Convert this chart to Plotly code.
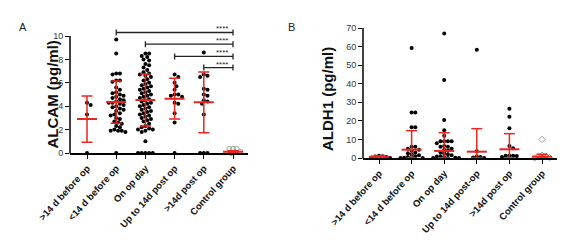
import plotly.graph_objects as go
import numpy as np

# ---------------- data ----------------
cats_a = [">14 d before op", "<14 d before op", "On op day", "Up to 14d post op", ">14d post op", "Control group"]
cats_b = [">14 d before op", "<14 d before op", "On op day", "Up to 14d post-op", ">14d post op", "Control group"]

a_g1 = [4.3, 4.1, 3.3, 0]
a_g2 = [9.7, 8.5, 6.8, 6.8, 6.7, 6.2, 6.2, 6.1, 5.6, 5.4, 5.2, 5.1, 5.0, 4.9, 4.8, 4.7, 4.6, 4.5, 4.4,
        4.3, 4.3, 4.2, 4.1, 4.0, 3.9, 3.8, 3.7, 3.6, 3.4, 3.3, 3.2, 3.0, 2.9, 2.7, 2.6, 2.5, 2.3, 2.2,
        2.0, 1.9, 1.9, 1.9, 1.8, 0]
a_g3 = [8.5, 8.5, 8.3, 8.2, 8.0, 7.9, 7.6, 7.5, 7.3, 7.1, 6.9, 6.8, 6.7, 6.6, 6.5, 6.3, 6.2, 6.0, 5.9,
        5.8, 5.7, 5.6, 5.5, 5.4, 5.3, 5.2, 5.1, 5.0, 4.9, 4.8, 4.7, 4.6, 4.5, 4.4, 4.3, 4.2, 4.1, 4.0,
        3.9, 3.8, 3.7, 3.6, 3.5, 3.4, 3.3, 3.2, 3.1, 3.0, 2.9, 2.8, 2.7, 2.5, 2.3, 2.2, 2.1, 2.0, 2.0,
        1.9, 1.8, 1.0, 0, 0, 0, 0, 0]
a_g4 = [6.7, 6.5, 6.0, 5.7, 5.4, 5.0, 5.0, 4.9, 4.8, 4.3, 4.2, 3.4, 2.6, 0]
a_g5 = [8.6, 6.7, 6.6, 6.5, 5.5, 5.4, 5.0, 4.9, 4.5, 4.4, 4.2, 3.3, 0, 0, 0]
a_g6 = [0.35, 0.35, 0.35, 0.1, 0.05, 0]
a_mean = [2.9, 4.35, 4.53, 4.63, 4.33, 0.1]
a_lo = [0.91, 2.54, 2.31, 2.9, 1.74, 0.02]
a_hi = [4.87, 6.15, 6.75, 6.38, 6.92, 0.2]

# significance brackets: start group, end group, height, label
br_start = [1, 2, 3, 4]
br_end = [5, 5, 5, 5]
br_y = [10.3, 9.3, 8.25, 7.3]
br_label = ["****", "****", "****", "****"]

b_g1 = [1.2, 1.0, 0.8, 0.6, 0.3, 0]
b_g2 = [59.2, 24.5, 24.5, 16.5, 16.5, 6.1, 6.0, 5.0, 4.5, 4.0, 3.0, 2.5, 2.0, 1.5, 1.0,
        0.5, 0.2, 0, 0, 0]
b_g3 = [67, 42, 20.5, 15, 12, 9, 9, 9, 9, 8, 6.5, 6, 6, 5, 4.5, 4, 3, 2.5, 2, 1.5,
        1, 0.8, 0.5, 0.2, 0, 0, 0]
b_g4 = [58.3, 3.7, 0.8, 0.6, 0.3, 0]
b_g5 = [26.5, 22.2, 16, 6.5, 5.2, 1.2, 1.2, 1.2, 1.1, 0.5]
b_g6 = [10, 1.5, 1.0, 0.6, 0.3, 0]
b_mean = [0.6, 4.5, 3.8, 3.4, 4.7, 0.7]
b_lo = [0.05, 0.05, 0.05, 0.05, 0.05, 0.05]
b_hi = [1.3, 14.7, 13.6, 15.8, 13.1, 2.0]

W, H = 577, 241
RED = "#e8251f"

# pixel geometry of each panel (ytop = pixel of ymax; extra headroom above the axis end)
A = dict(x0=70, x1=248, cat0=87, step=29.2, ybot=153, ytop=36, ymax=10, yext=10.7, ctrl="circle-open")
B = dict(x0=363, x1=557, cat0=379, step=32.6, ybot=158, ytop=28, ymax=70, yext=70, ctrl="diamond-open")


def xrange_of(p):
    return [(p["x0"] - p["cat0"]) / p["step"], (p["x1"] - p["cat0"]) / p["step"]]


def ppu_y(p):
    return (p["ybot"] - p["ytop"]) / p["ymax"]


def swarm(values, center, p, d=3.7):
    """simple beeswarm placement, in pixels then converted to data units"""
    py = ppu_y(p)
    order = np.argsort(-np.array(values), kind="stable")
    placed = []
    xs = [0.0] * len(values)
    for i in order:
        y = values[i] * py
        k = 0
        while True:
            cands = [0.0] if k == 0 else [k * d * 0.5, -k * d * 0.5]
            ok = None
            for c in cands:
                if all((c - px) ** 2 + (y - pyy) ** 2 >= d * d for px, pyy in placed):
                    ok = c
                    break
            if ok is not None:
                placed.append((ok, y))
                xs[i] = center + ok / p["step"]
                break
            k += 1
    return xs


fig = go.Figure()


def add_panel(groups, means, los, his, p, xa, ya):
    for gi, vals in enumerate(groups):
        xs = swarm(vals, gi, p)
        control = gi == 5
        fig.add_trace(go.Scatter(
            x=xs, y=vals, mode="markers", xaxis=xa, yaxis=ya, cliponaxis=False,
            marker=dict(size=5 if control else 4,
                        symbol=p["ctrl"] if control else "circle",
                        color="#a0a0a0" if control else "black",
                        line=dict(width=1, color="#a0a0a0") if control else dict(width=0)),
            showlegend=False, hoverinfo="skip"))
    cap = 5.5 / p["step"]
    mh = 10 / p["step"]
    ex, ey, mx, my = [], [], [], []
    for gi in range(len(means)):
        ex += [gi, gi, None, gi - cap, gi + cap, None, gi - cap, gi + cap, None]
        ey += [los[gi], his[gi], None, los[gi], los[gi], None, his[gi], his[gi], None]
        mx += [gi - mh, gi + mh, None]
        my += [means[gi], means[gi], None]
    fig.add_trace(go.Scatter(x=ex, y=ey, mode="lines", xaxis=xa, yaxis=ya, cliponaxis=False,
                             line=dict(color=RED, width=1.5), showlegend=False, hoverinfo="skip"))
    fig.add_trace(go.Scatter(x=mx, y=my, mode="lines", xaxis=xa, yaxis=ya, cliponaxis=False,
                             line=dict(color=RED, width=2), showlegend=False, hoverinfo="skip"))


add_panel([a_g1, a_g2, a_g3, a_g4, a_g5, a_g6], a_mean, a_lo, a_hi, A, "x", "y")
add_panel([b_g1, b_g2, b_g3, b_g4, b_g5, b_g6], b_mean, b_lo, b_hi, B, "x2", "y2")

# brackets in panel A
capv = 3 / ppu_y(A)
for s, e, yv, lab in zip(br_start, br_end, br_y, br_label):
    fig.add_trace(go.Scatter(
        x=[s, e, None, s, s, None, e, e], y=[yv, yv, None, yv - capv, yv + capv, None, yv - capv, yv + capv],
        mode="lines", xaxis="x", yaxis="y", cliponaxis=False,
        line=dict(color="#222", width=1.3), showlegend=False, hoverinfo="skip"))
    fig.add_annotation(x=e - 0.1, y=yv, xref="x", yref="y", text=lab, showarrow=False,
                       xanchor="right", yanchor="bottom", yshift=-3,
                       font=dict(family="Liberation Sans", size=8, color="#222"))


def dom_x(p):
    return [p["x0"] / W, p["x1"] / W]


def dom_y(p):
    top_px = p["ybot"] - p["yext"] * ppu_y(p)
    return [1 - p["ybot"] / H, 1 - top_px / H]


# y-axis lines drawn only up to the last tick
for p in (A, B):
    fig.add_shape(type="line", xref="paper", yref="paper", x0=p["x0"] / W, x1=p["x0"] / W,
                  y0=1 - (p["ybot"] + 0.5) / H, y1=1 - p["ytop"] / H, line=dict(color="black", width=1.5))

tickfont_x = dict(family="Liberation Sans", size=9.5, color="#111", weight="bold")
tickfont_y = dict(family="Liberation Sans", size=9, color="#333")
axcommon = dict(showgrid=False, zeroline=False, ticks="outside", automargin=False,
                ticklen=4, tickcolor="black")

fig.update_layout(
    width=W, height=H, autosize=False, margin=dict(l=0, r=0, t=0, b=0),
    paper_bgcolor="white", plot_bgcolor="white",
    xaxis=dict(domain=dom_x(A), range=xrange_of(A), tickvals=list(range(6)), ticktext=cats_a,
               tickangle=-48, tickfont=tickfont_x, anchor="y", showline=True, linecolor="black",
               linewidth=2, **axcommon),
    yaxis=dict(domain=dom_y(A), range=[0, A["yext"]], tickvals=[0, 2, 4, 6, 8, 10], tickfont=tickfont_y,
               anchor="x", showline=False, **axcommon),
    xaxis2=dict(domain=dom_x(B), range=xrange_of(B), tickvals=list(range(6)), ticktext=cats_b,
                tickangle=-48, tickfont=tickfont_x, anchor="y2", showline=True, linecolor="black",
                linewidth=2, **axcommon),
    yaxis2=dict(domain=dom_y(B), range=[0, B["yext"]], tickvals=[0, 10, 20, 30, 40, 50, 60, 70],
                tickfont=tickfont_y, anchor="x2", showline=False, **axcommon),
)

fig.add_annotation(x=42 / W, y=1 - 95 / H, xref="paper", yref="paper", text="<b>ALCAM (pg/ml)</b>",
                   textangle=-90, showarrow=False, font=dict(family="Liberation Sans", size=15, color="#111"))
fig.add_annotation(x=327 / W, y=1 - 99 / H, xref="paper", yref="paper", text="<b>ALDH1 (pg/ml)</b>",
                   textangle=-90, showarrow=False, font=dict(family="Liberation Sans", size=15, color="#111"))
fig.add_annotation(x=17 / W, y=1 - 19 / H, xref="paper", yref="paper", text="A", showarrow=False,
                   font=dict(family="Liberation Sans", size=11, color="#222"))
fig.add_annotation(x=291 / W, y=1 - 19 / H, xref="paper", yref="paper", text="B", showarrow=False,
                   font=dict(family="Liberation Sans", size=11, color="#222"))

fig.write_html("out.html")
